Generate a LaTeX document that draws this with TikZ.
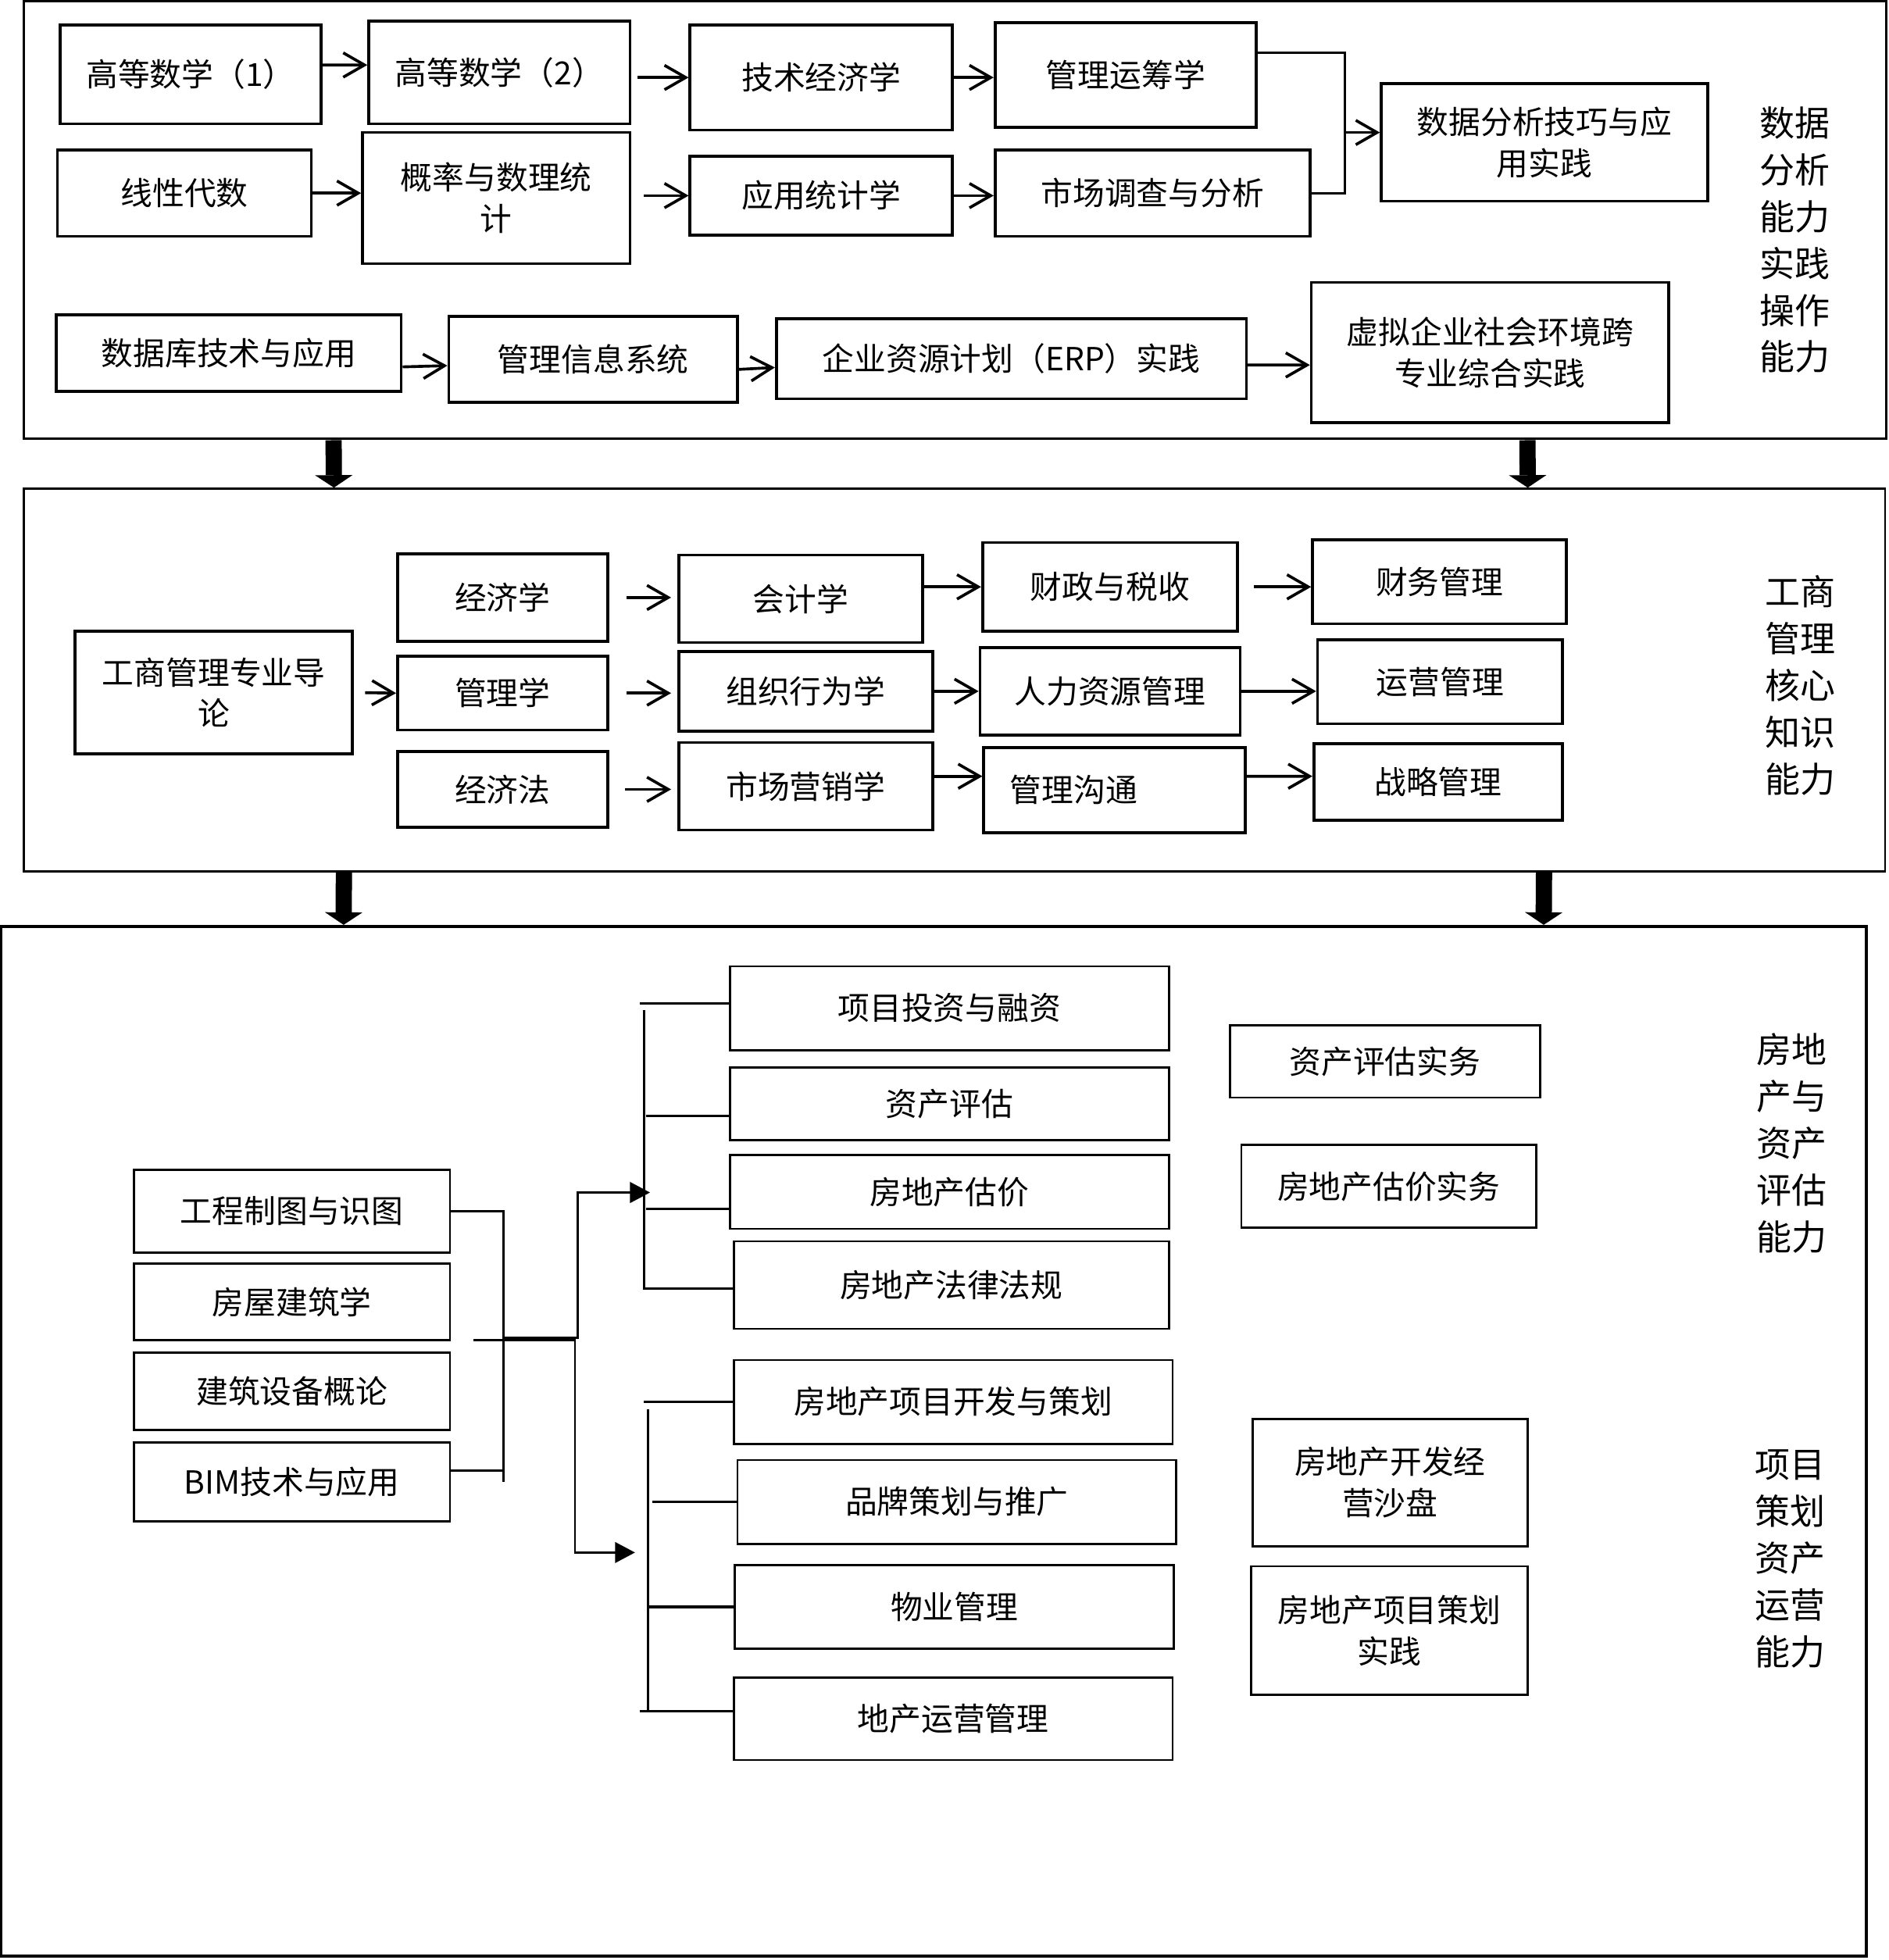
\documentclass[tikz,border=0pt]{standalone}
\usepackage{fontspec}
\setmainfont{Noto Sans CJK SC}
\usetikzlibrary{arrows.meta,positioning,calc}
\newcommand{\boxtxt}{\fontsize{14.5pt}{18.7pt}\selectfont}
\newcommand{\bigtxt}{\fontsize{14.5pt}{18.7pt}\selectfont}
\newcommand{\sidetxt}{\fontsize{16pt}{21.3pt}\selectfont}
\tikzset{
  mw/.style={minimum width=#1*0.2mm},
  mh/.style={minimum height=#1*0.2mm},
  secframe/.style={draw,line width=1.3pt,inner sep=0pt},
  cbox/.style={draw,line width=1.3pt,inner sep=0pt,align=center,font=\boxtxt},
  rbox/.style={draw,line width=1pt,inner sep=0pt,align=center,font=\bigtxt},
  sidelab/.style={align=center,inner sep=0pt,font=\sidetxt},
  arr/.style={line width=1.3pt,-{Straight Barb[length=3.4mm,width=3.9mm]}},
  ln/.style={line width=1.1pt},
  tri/.style={line width=1pt,-{Triangle[length=3.2mm,width=3.3mm]}},
  bigarr/.style={line width=2.6mm,-{Triangle[length=2mm,width=6mm,line width=0pt]}}
}
\begin{document}
\begin{tikzpicture}[x=0.2mm,y=-0.2mm]
\useasboundingbox (0,0) rectangle (1511,1568);
% data analysis
\node[secframe,mw=1490,mh=350] (sec1) at (764,176) {};
\node[cbox,mw=209,mh=79] (gs1) at (152.5,59.5) {高等数学（1）};
\node[cbox,mw=209,mh=82] (gs2) at (399.5,58) {高等数学（2）};
\node[cbox,mw=210,mh=84] (jjx) at (657,62) {技术经济学};
\node[cbox,mw=209,mh=84] (ycx) at (900.5,60) {管理运筹学};
\node[cbox,mw=203,mh=69] (xxds) at (147.5,154.5) {线性代数};
\node[cbox,mw=214,mh=105] (gltj) at (397,158.5) {概率与数理统\\计};
\node[cbox,mw=210,mh=63] (yytj) at (657,156.5) {应用统计学};
\node[cbox,mw=252,mh=69] (scdc) at (922,154.5) {市场调查与分析};
\node[cbox,mw=261,mh=94] (sjfx) at (1235.5,114) {数据分析技巧与应\\用实践};
\node[cbox,mw=276,mh=61] (sjk) at (183,282.5) {数据库技术与应用};
\node[cbox,mw=231,mh=69] (glxx) at (474.5,287.5) {管理信息系统};
\node[cbox,mw=376,mh=64] (erp) at (809,287) {企业资源计划（ERP）实践};
\node[cbox,mw=286,mh=112] (xnqy) at (1192,282) {虚拟企业社会环境跨\\专业综合实践};
\node[sidelab] (lab1) at (1436,192) {数据\\分析\\能力\\实践\\操作\\能力};
\draw[arr] ([yshift=1.5mm]gs1.east) -- ([yshift=1.2mm]gs2.west);
\draw[arr,shorten <=1mm] (gs2.east |- jjx.west) -- (jjx.west);
\draw[arr] (jjx.east) -- (jjx.east -| ycx.west);
\draw[arr] (xxds.east) -- (xxds.east -| gltj.west);
\draw[arr,shorten <=2mm] (gltj.east |- yytj.west) -- (yytj.west);
\draw[arr] (yytj.east) -- (yytj.east -| scdc.west);
\coordinate (jn) at (1076,106);
\draw[ln] ([yshift=3.6mm]ycx.east) -| (jn) |- (scdc.east);
\draw[arr] (jn) -- (jn -| sjfx.west);
\draw[arr] ([yshift=-2.2mm]sjk.east) -- ([yshift=-1mm]glxx.west);
\draw[arr] ([yshift=-1.6mm]glxx.east) -- ([yshift=-1.4mm]erp.west);
\draw[arr] ([yshift=-1mm]erp.east) -- ([yshift=-2mm]xnqy.west);
% business core
\node[secframe,line width=1pt,mw=1489,mh=306] (sec2) at (763.5,544) {};
\node[cbox,mw=222,mh=98] (intro) at (171,554) {工商管理专业导\\论};
\node[cbox,mw=168,mh=70] (jjxue) at (402,478) {经济学};
\node[cbox,mw=168,mh=59] (glxue) at (402,554.5) {管理学};
\node[cbox,mw=168,mh=61] (jjf) at (402,631.5) {经济法};
\node[cbox,mw=195,mh=70] (kjx) at (640.5,479) {会计学};
\node[cbox,mw=203,mh=64] (zzxw) at (644.5,553) {组织行为学};
\node[cbox,mw=203,mh=70] (scyx) at (644.5,629) {市场营销学};
\node[cbox,mw=204,mh=71] (czss) at (888,469.5) {财政与税收};
\node[cbox,mw=208,mh=70] (rlzy) at (888,553) {人力资源管理};
\node[cbox,mw=209,mh=68] (glgt) at (891.5,632) {管理沟通\hspace*{13mm}};
\node[cbox,mw=203,mh=67] (cwgl) at (1151.5,465.5) {财务管理};
\node[cbox,mw=196,mh=67] (yygl) at (1152,545.5) {运营管理};
\node[cbox,mw=199,mh=61] (zlgl) at (1150.5,625.5) {战略管理};
\node[sidelab] (lab2) at (1440,548.5) {工商\\管理\\核心\\知识\\能力};
\draw[arr,shorten <=1.8mm] (intro.east) -- (glxue.west);
\draw[arr,shorten <=2.8mm,shorten >=1mm] (jjxue.east) -- (jjxue.east -| kjx.west);
\draw[arr,shorten <=2.8mm,shorten >=1mm] (glxue.east) -- (glxue.east -| zzxw.west);
\draw[arr,shorten <=2.6mm,shorten >=1mm] (jjf.east) -- (jjf.east -| scyx.west);
\draw[arr] (kjx.east |- czss.west) -- (czss.west);
\draw[arr] (zzxw.east) -- (zzxw.east -| rlzy.west);
\draw[arr] ([yshift=1.6mm]scyx.east) -- ([yshift=2.2mm]glgt.west);
\draw[arr,shorten <=2.4mm] (czss.east) -- (czss.east -| cwgl.west);
\draw[arr] (rlzy.east) -- (rlzy.east -| yygl.west);
\draw[arr] ([yshift=2.2mm]glgt.east) -- ([yshift=0.9mm]zlgl.west);
% real estate
\node[secframe,mw=1492,mh=824] (sec3) at (747,1153) {};
\foreach \a/\b in {49.8/49.8,240.8/240.8}{\draw[bigarr] ([xshift=\a mm]sec1.south west) -- ([xshift=\b mm]sec2.north west);}
\foreach \a/\b in {51.4/55,243.4/247}{\draw[bigarr] ([xshift=\a mm]sec2.south west) -- ([xshift=\b mm]sec3.north west);}
\node[rbox,mw=253,mh=66] (gczt) at (233.5,969) {工程制图与识图};
\node[rbox,mw=253,mh=61] (fwjz) at (233.5,1041.5) {房屋建筑学};
\node[rbox,mw=253,mh=62] (jzsb) at (233.5,1113) {建筑设备概论};
\node[rbox,mw=253,mh=63] (bim) at (233.5,1185.5) {BIM技术与应用};
\node[rbox,mw=351,mh=67] (xmtz) at (759.5,806.5) {项目投资与融资};
\node[rbox,mw=351,mh=58] (zcpg) at (759.5,883) {资产评估};
\node[rbox,mw=351,mh=59] (fdcgj) at (759.5,953.5) {房地产估价};
\node[rbox,mw=348,mh=70] (fdcfl) at (761,1028) {房地产法律法规};
\node[rbox,mw=351,mh=67] (xmkf) at (762.5,1121.5) {房地产项目开发与策划};
\node[rbox,mw=351,mh=67] (ppch) at (765.5,1201.5) {品牌策划与推广};
\node[rbox,mw=351,mh=67] (wygl) at (763.5,1285.5) {物业管理};
\node[rbox,mw=351,mh=66] (dcyy) at (762.5,1375) {地产运营管理};
\node[rbox,mw=248,mh=58] (zcsw) at (1108,849) {资产评估实务};
\node[rbox,mw=236,mh=66] (gjsw) at (1111,949) {房地产估价实务};
\node[rbox,mw=220,mh=102] (kfsp) at (1112,1186) {房地产开发经\\营沙盘};
\node[rbox,mw=221,mh=103] (chsj) at (1111.5,1304.5) {房地产项目策划\\实践};
\node[sidelab] (lab3) at (1433,914.5) {房地\\产与\\资产\\评估\\能力};
\node[sidelab] (lab4) at (1432,1247) {项目\\策划\\资产\\运营\\能力};
\coordinate (lb) at (403,1070);
\coordinate (split) at (379,1072);
\coordinate (upin) at (520,954);
\coordinate (lowin) at (508,1242);
\draw[ln] (gczt.east) -- (gczt.east -| lb) -- (lb |- bim.east);
\draw[ln] ([yshift=1.8mm]bim.east) -- ++(43,0);
\draw[tri] (lb) -- ++(59,0) |- (upin);
\draw[tri] (split) -- ++(81,0) |- (lowin);
\draw[ln] ([yshift=0.7mm]xmtz.west) -- ++(-71,0);
\draw[ln] ([yshift=-2mm]zcpg.west) -- ++(-66,0);
\draw[ln] ([yshift=-2.7mm]fdcgj.west) -- ++(-66,0);
\draw[ln] ([yshift=-0.6mm]fdcfl.west) -- ++(-71,0) -- ++(0,-223);
\draw[ln] (xmkf.west) -- ++(-71,0);
\draw[ln] (ppch.west) -- ++(-67,0);
\draw[ln] (wygl.west) -- ++(-68,0);
\draw[ln] ([yshift=1.2mm]dcyy.west) -- ++(-74,0);
\draw[ln] ([xshift=-13.6mm,yshift=-1.2mm]xmkf.west) -- ([xshift=-13.6mm,yshift=1.2mm]dcyy.west);
\end{tikzpicture}
\end{document}
